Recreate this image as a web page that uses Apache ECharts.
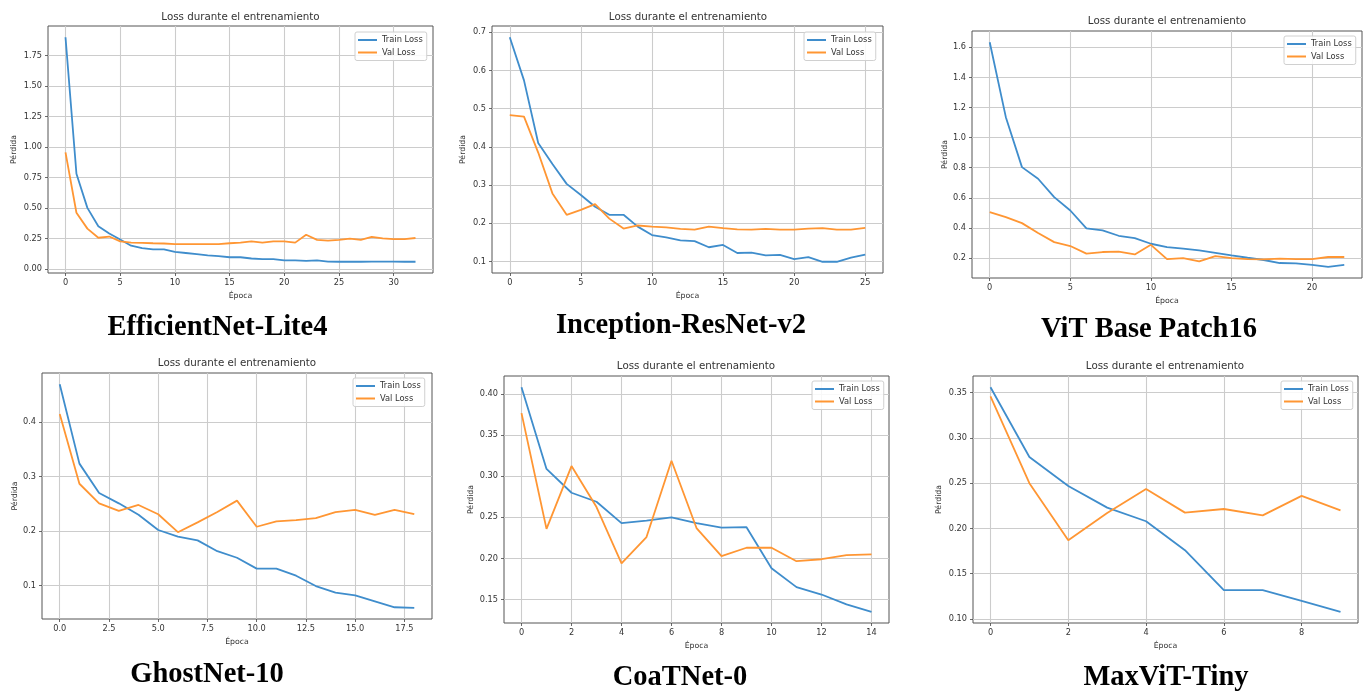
<!DOCTYPE html>
<html><head><meta charset="utf-8">
<script src="https://cdn.jsdelivr.net/npm/echarts@6/dist/echarts.min.js"></script>
<style>html,body{margin:0;padding:0;background:#fff}#c{width:1369px;height:691px}</style>
</head><body><div id="c"></div>
<script>
// ---------- data ----------
const modelNames = ['EfficientNet-Lite4', 'Inception-ResNet-v2', 'ViT Base Patch16', 'GhostNet-10', 'CoaTNet-0', 'MaxViT-Tiny'];
const seriesNames = ['Train Loss', 'Val Loss'];
const chartTitle = 'Loss durante el entrenamiento';
const xAxisName = 'Época';
const yAxisName = 'Pérdida';

const effTrain = [1.90, 0.78, 0.50, 0.35, 0.29, 0.24, 0.19, 0.17, 0.16, 0.16, 0.14, 0.13, 0.12, 0.11, 0.105, 0.095, 0.095, 0.085, 0.08, 0.08, 0.07, 0.07, 0.065, 0.07, 0.06, 0.058, 0.058, 0.058, 0.06, 0.06, 0.06, 0.058, 0.058];
const effVal = [0.955, 0.46, 0.33, 0.255, 0.265, 0.225, 0.215, 0.213, 0.21, 0.208, 0.203, 0.202, 0.202, 0.202, 0.202, 0.21, 0.215, 0.225, 0.215, 0.225, 0.225, 0.215, 0.28, 0.238, 0.232, 0.238, 0.248, 0.238, 0.262, 0.25, 0.243, 0.243, 0.253];
const effXTicks = [0, 5, 10, 15, 20, 25, 30];
const effYTicks = [0, 0.25, 0.5, 0.75, 1.0, 1.25, 1.5, 1.75];

const incTrain = [0.687, 0.574, 0.41, 0.355, 0.303, 0.274, 0.243, 0.222, 0.222, 0.191, 0.169, 0.163, 0.155, 0.153, 0.137, 0.143, 0.122, 0.123, 0.116, 0.117, 0.106, 0.111, 0.099, 0.099, 0.11, 0.118];
const incVal = [0.483, 0.479, 0.385, 0.278, 0.222, 0.235, 0.25, 0.212, 0.186, 0.194, 0.191, 0.189, 0.185, 0.183, 0.191, 0.187, 0.184, 0.183, 0.185, 0.183, 0.183, 0.186, 0.187, 0.183, 0.183, 0.188];
const incXTicks = [0, 5, 10, 15, 20, 25];
const incYTicks = [0.1, 0.2, 0.3, 0.4, 0.5, 0.6, 0.7];

const vitTrain = [1.634, 1.136, 0.804, 0.727, 0.605, 0.516, 0.397, 0.384, 0.348, 0.333, 0.295, 0.273, 0.262, 0.251, 0.235, 0.218, 0.202, 0.187, 0.167, 0.165, 0.154, 0.142, 0.154];
const vitVal = [0.505, 0.472, 0.432, 0.366, 0.306, 0.28, 0.229, 0.24, 0.242, 0.224, 0.288, 0.193, 0.2, 0.178, 0.213, 0.2, 0.193, 0.191, 0.196, 0.193, 0.193, 0.207, 0.207];
const vitXTicks = [0, 5, 10, 15, 20];
const vitYTicks = [0.2, 0.4, 0.6, 0.8, 1.0, 1.2, 1.4, 1.6];

const ghostTrain = [0.47, 0.324, 0.27, 0.251, 0.23, 0.202, 0.19, 0.183, 0.163, 0.151, 0.131, 0.131, 0.118, 0.099, 0.087, 0.082, 0.071, 0.06, 0.059];
const ghostVal = [0.415, 0.287, 0.251, 0.237, 0.248, 0.231, 0.198, 0.216, 0.235, 0.256, 0.208, 0.218, 0.22, 0.224, 0.235, 0.239, 0.23, 0.239, 0.231];
const ghostXTicks = [0, 2.5, 5, 7.5, 10, 12.5, 15, 17.5];
const ghostYTicks = [0.1, 0.2, 0.3, 0.4];

const coatTrain = [0.4085, 0.309, 0.28, 0.269, 0.243, 0.246, 0.25, 0.243, 0.2375, 0.238, 0.188, 0.165, 0.156, 0.144, 0.135];
const coatVal = [0.377, 0.236, 0.3125, 0.2626, 0.194, 0.226, 0.319, 0.237, 0.2027, 0.213, 0.213, 0.1966, 0.199, 0.204, 0.205];
const coatXTicks = [0, 2, 4, 6, 8, 10, 12, 14];
const coatYTicks = [0.15, 0.20, 0.25, 0.30, 0.35, 0.40];

const maxTrain = [0.356, 0.279, 0.247, 0.223, 0.208, 0.176, 0.132, 0.132, 0.12, 0.108];
const maxVal = [0.346, 0.25, 0.187, 0.217, 0.2435, 0.2175, 0.2215, 0.2145, 0.236, 0.22];
const maxXTicks = [0, 2, 4, 6, 8];
const maxYTicks = [0.10, 0.15, 0.20, 0.25, 0.30, 0.35];

// ---------- layout ----------
const panels = [
  {train: effTrain, val: effVal, xt: effXTicks, yt: effYTicks, xd: 0, yd: 2, grid: {left: 48, top: 26, width: 385, height: 247}, lg: {left: 355, top: 32}, yGap: 30, title: {x: 240.5, y: 17}, label: {x: 217.5, y: 328}},
  {train: incTrain, val: incVal, xt: incXTicks, yt: incYTicks, xd: 0, yd: 1, grid: {left: 492, top: 26, width: 391, height: 247}, lg: {left: 804, top: 32}, yGap: 25, title: {x: 688, y: 17}, label: {x: 681, y: 326}},
  {train: vitTrain, val: vitVal, xt: vitXTicks, yt: vitYTicks, xd: 0, yd: 1, grid: {left: 972, top: 31, width: 390, height: 247}, lg: {left: 1284, top: 36}, yGap: 23, title: {x: 1167, y: 21}, label: {x: 1149, y: 330}},
  {train: ghostTrain, val: ghostVal, xt: ghostXTicks, yt: ghostYTicks, xd: 1, yd: 1, grid: {left: 42, top: 373, width: 390, height: 246}, lg: {left: 353, top: 378}, yGap: 23, title: {x: 237, y: 363.5}, label: {x: 207, y: 675}},
  {train: coatTrain, val: coatVal, xt: coatXTicks, yt: coatYTicks, xd: 0, yd: 2, grid: {left: 504, top: 376, width: 385, height: 247}, lg: {left: 812, top: 381}, yGap: 29, title: {x: 696, y: 366}, label: {x: 680, y: 678}},
  {train: maxTrain, val: maxVal, xt: maxXTicks, yt: maxYTicks, xd: 0, yd: 2, grid: {left: 973, top: 376, width: 385, height: 247}, lg: {left: 1281, top: 381}, yGap: 30, title: {x: 1165, y: 366}, label: {x: 1166, y: 678}}
];

const FONT = 'DejaVu Sans';
const SERIF = 'Liberation Serif';
const BLUE = '#3f8dcc';
const ORANGE = '#ff9633';
const TXT = '#333';

const option = {
  animation: false,
  backgroundColor: '#fff',
  grid: [], xAxis: [], yAxis: [], series: [], legend: [], graphic: []
};

panels.forEach((p, i) => {
  const n = p.train.length;
  const all = p.train.concat(p.val);
  const lo = Math.min(...all), hi = Math.max(...all), r = hi - lo;
  option.grid.push(Object.assign({show: true, borderColor: '#555', borderWidth: 1, containLabel: false, outerBoundsMode: 'none'}, p.grid));
  option.xAxis.push({
    type: 'value', gridIndex: i,
    min: -0.05 * (n - 1), max: (n - 1) * 1.05,
    name: xAxisName, nameLocation: 'middle', nameGap: 19, nameMoveOverlap: false,
    nameTextStyle: {fontFamily: FONT, fontSize: 7.8, color: TXT},
    axisLine: {show: false, onZero: false},
    axisTick: {show: true, length: 3, lineStyle: {color: '#444', width: 0.8}, customValues: p.xt},
    axisLabel: {customValues: p.xt, formatter: v => Number(v).toFixed(p.xd), margin: 6, fontFamily: FONT, fontSize: 8.2, color: TXT},
    splitLine: {show: true, lineStyle: {color: '#cccccc', width: 1.1}}
  });
  option.yAxis.push({
    type: 'value', gridIndex: i,
    min: lo - 0.05 * r, max: hi + 0.05 * r,
    name: yAxisName, nameLocation: 'middle', nameGap: p.yGap, nameMoveOverlap: false,
    nameTextStyle: {fontFamily: FONT, fontSize: 7.8, color: TXT},
    axisLine: {show: false, onZero: false},
    axisTick: {show: true, length: 3, lineStyle: {color: '#444', width: 0.8}, customValues: p.yt},
    axisLabel: {customValues: p.yt, formatter: v => Number(v).toFixed(p.yd), margin: 6, fontFamily: FONT, fontSize: 8.2, color: TXT},
    splitLine: {show: true, lineStyle: {color: '#cccccc', width: 1.1}}
  });
  [p.train, p.val].forEach((arr, k) => {
    option.series.push({
      type: 'line', name: seriesNames[k], xAxisIndex: i, yAxisIndex: i,
      data: arr.map((v, e) => [e, v]),
      symbol: 'none', showSymbol: false, silent: true,
      lineStyle: {width: 1.8, color: k === 0 ? BLUE : ORANGE},
      itemStyle: {color: k === 0 ? BLUE : ORANGE},
      z: 3
    });
  });
  option.legend.push({
    data: seriesNames, orient: 'vertical', left: p.lg.left, top: p.lg.top,
    icon: 'rect', itemWidth: 19, itemHeight: 2, itemGap: 4.5,
    padding: [4, 4, 4, 3],
    backgroundColor: 'rgba(255,255,255,0.85)', borderColor: '#d0d0d0', borderWidth: 1, borderRadius: 2,
    textStyle: {fontFamily: FONT, fontSize: 8.3, color: TXT},
    selectedMode: false
  });
  option.graphic.push({
    type: 'text', x: p.title.x, y: p.title.y, silent: true,
    style: {text: chartTitle, fontFamily: FONT, fontSize: 10.3, fill: TXT, textAlign: 'center', textVerticalAlign: 'middle'}
  });
  option.graphic.push({
    type: 'text', x: p.label.x, y: p.label.y, silent: true,
    style: {text: modelNames[i], fontFamily: SERIF, fontWeight: 'bold', fontSize: 28.5, fill: '#000', textAlign: 'center', textVerticalAlign: 'middle'}
  });
});

const chart = echarts.init(document.getElementById('c'), null, {renderer: 'canvas'});
chart.setOption(option);
</script>
</body></html>
